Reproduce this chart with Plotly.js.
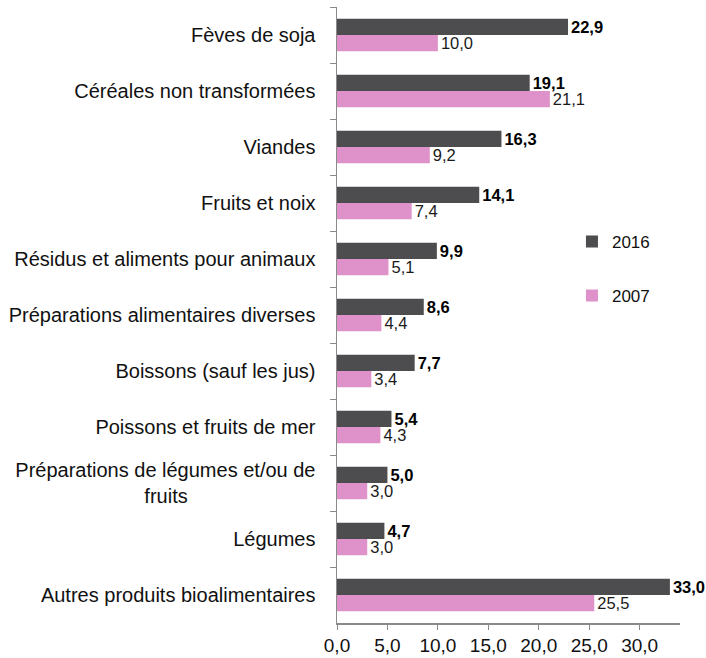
<!DOCTYPE html>
<html><head><meta charset="utf-8">
<script src="https://cdn.plot.ly/plotly-3.0.1.min.js"></script>
<style>body{margin:0;background:#fff}#c{width:706px;height:658px}</style>
</head><body><div id="c"></div>
<script>
var categories = [
  "Fèves de soja",
  "Céréales non transformées",
  "Viandes",
  "Fruits et noix",
  "Résidus et aliments pour animaux",
  "Préparations alimentaires diverses",
  "Boissons (sauf les jus)",
  "Poissons et fruits de mer",
  "Préparations de légumes et/ou de<br>fruits" + "\u00a0".repeat(23),
  "Légumes",
  "Autres produits bioalimentaires"
];
var values2016 = [22.9, 19.1, 16.3, 14.1, 9.9, 8.6, 7.7, 5.4, 5.0, 4.7, 33.0];
var values2007 = [10.0, 21.1, 9.2, 7.4, 5.1, 4.4, 3.4, 4.3, 3.0, 3.0, 25.5];
var xTicks = [0, 5, 10, 15, 20, 25, 30];

var FONT = "'Liberation Sans Narrow', 'Arial Narrow', 'Liberation Sans', Arial, sans-serif";

function fmt(v){ return v.toFixed(1).replace('.', ','); }

var traces = [
  {type:'bar', orientation:'h', name:'2016', y:categories, x:values2016,
   marker:{color:'#4d4d4f'}, legendgroup:'a',
   text:values2016.map(fmt),
   textposition:'outside', cliponaxis:false, constraintext:'none',
   textfont:{family:FONT, size:16.5, color:'#000', weight:'bold'}, hoverinfo:'none'},
  {type:'bar', orientation:'h', name:'2007', y:categories, x:values2007,
   marker:{color:'#df92c9'}, legendgroup:'b',
   text:values2007.map(fmt),
   textposition:'outside', cliponaxis:false, constraintext:'none',
   textfont:{family:FONT, size:16.5, color:'#1a1a1a'}, hoverinfo:'none'}
];

var layout = {
  width:706, height:658,
  margin:{l:337, r:26, t:7, b:35},
  separators:', ',
  barmode:'group', bargap:0.42, bargroupgap:0,
  font:{family:FONT, size:20, color:'#111'},
  paper_bgcolor:'#fff', plot_bgcolor:'#fff',
  showlegend:true,
  legend:{x:0.685, y:0.648, xanchor:'left', yanchor:'top', tracegroupgap:29,
          font:{family:FONT, size:17, color:'#111'}, itemwidth:30, bgcolor:'rgba(0,0,0,0)'},
  xaxis:{range:[0,34], tickvals:xTicks, tickformat:'.1f', showgrid:false, zeroline:false,
         showline:true, linecolor:'#8a8a8a', linewidth:1.5, ticks:'outside', ticklen:5,
         tickcolor:'#8a8a8a', tickfont:{family:FONT, size:19, color:'#111'}},
  yaxis:{autorange:'reversed', type:'category', showgrid:false, zeroline:false,
         showline:true, linecolor:'#8a8a8a', linewidth:1.5, ticks:'outside', ticklen:6,
         tickcolor:'#8a8a8a', tickson:'boundaries', ticklabelstandoff:16,
         tickfont:{family:FONT, size:20, color:'#111'}}
};
Plotly.newPlot('c', traces, layout, {displayModeBar:false, staticPlot:true});
</script></body></html>
